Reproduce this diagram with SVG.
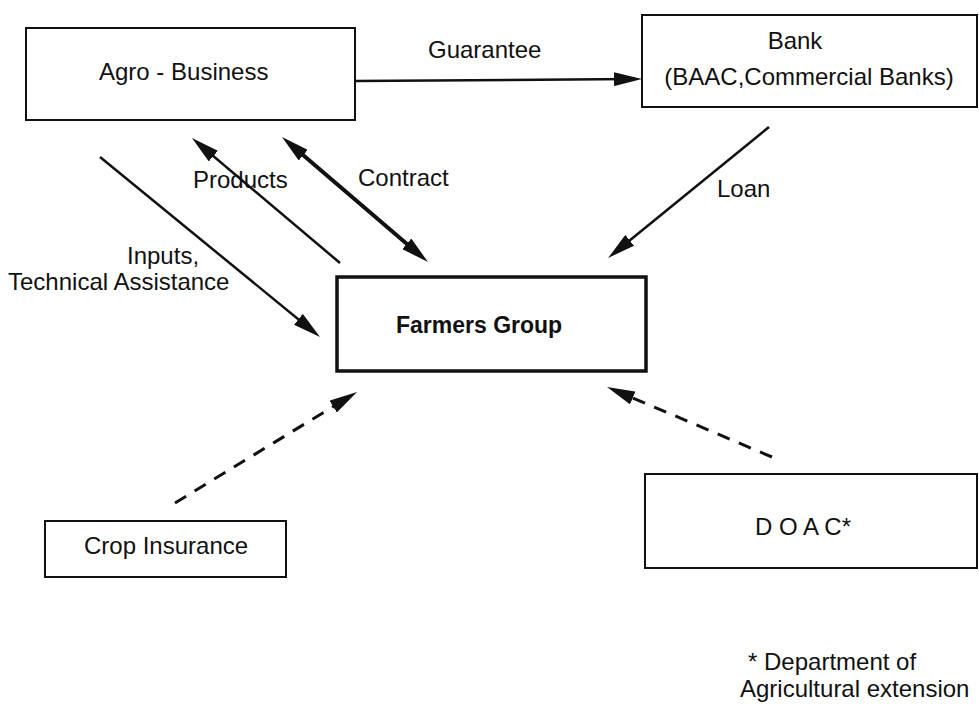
<svg xmlns="http://www.w3.org/2000/svg" width="979" height="706" viewBox="0 0 979 706">
<style>
  .box { fill: #fff; stroke: #111; stroke-width: 2; }
  .main { fill: #fff; stroke: #111; stroke-width: 3.5; }
  .t { font-family: "Liberation Sans", Arial, sans-serif; font-size: 24px; fill: #111; }
  .b { font-weight: bold; font-size: 23px; }
  .c { stroke: #111; stroke-width: 2.5; fill: none; }
  .thick { stroke-width: 4; }
  .dash { stroke-dasharray: 13 10; stroke-width: 3; }
</style>
<defs>
  <marker id="ah" viewBox="0 0 28 14" refX="18" refY="7" markerWidth="28" markerHeight="14" markerUnits="userSpaceOnUse" orient="auto-start-reverse">
    <path d="M0,0 L28,7 L0,14 Z" fill="#111"/>
  </marker>
</defs>
<rect width="979" height="706" fill="#fff"/>

<g id="agro-business">
  <rect class="box" x="26" y="28" width="329" height="92"/>
  <text class="t" x="99" y="80">Agro - Business</text>
</g>

<g id="bank">
  <rect class="box" x="642" y="15" width="335" height="92"/>
  <text class="t" x="795" y="49" text-anchor="middle">Bank</text>
  <text class="t" x="809" y="85" text-anchor="middle">(BAAC,Commercial Banks)</text>
</g>

<g id="farmers-group">
  <rect class="main" x="337" y="277" width="309" height="94"/>
  <text class="t b" x="396" y="333">Farmers Group</text>
</g>

<g id="crop-insurance">
  <rect class="box" x="45" y="521" width="241" height="56"/>
  <text class="t" x="84" y="554">Crop Insurance</text>
</g>

<g id="doac">
  <rect class="box" x="645" y="474" width="332" height="94"/>
  <text class="t" x="755" y="535">D O A C*</text>
</g>

<g id="footnote">
  <text class="t" x="748" y="670">* Department of</text>
  <text class="t" x="740" y="697">Agricultural extension</text>
</g>

<g id="connectors">
  <line class="c" x1="355" y1="81" x2="632" y2="79" marker-end="url(#ah)"/>
  <text class="t" x="428" y="58">Guarantee</text>

  <line class="c" x1="769" y1="127" x2="615.8" y2="251.7" marker-end="url(#ah)"/>
  <text class="t" x="717" y="197">Loan</text>

  <line class="c" x1="100" y1="157" x2="312.3" y2="330.7" marker-end="url(#ah)"/>
  <text class="t" x="127" y="264">Inputs,</text>
  <text class="t" x="8" y="290">Technical Assistance</text>

  <line class="c" x1="340" y1="263" x2="199.6" y2="144.5" marker-end="url(#ah)"/>
  <text class="t" x="193" y="188">Products</text>

  <line class="c thick" x1="289.6" y1="143.5" x2="420.4" y2="255.5" marker-start="url(#ah)" marker-end="url(#ah)"/>
  <text class="t" x="358" y="186">Contract</text>

  <line class="c dash" x1="175" y1="503" x2="348.5" y2="397.2" marker-end="url(#ah)"/>
  <line class="c dash" x1="772" y1="457" x2="616.2" y2="390.9" marker-end="url(#ah)"/>
</g>
</svg>
